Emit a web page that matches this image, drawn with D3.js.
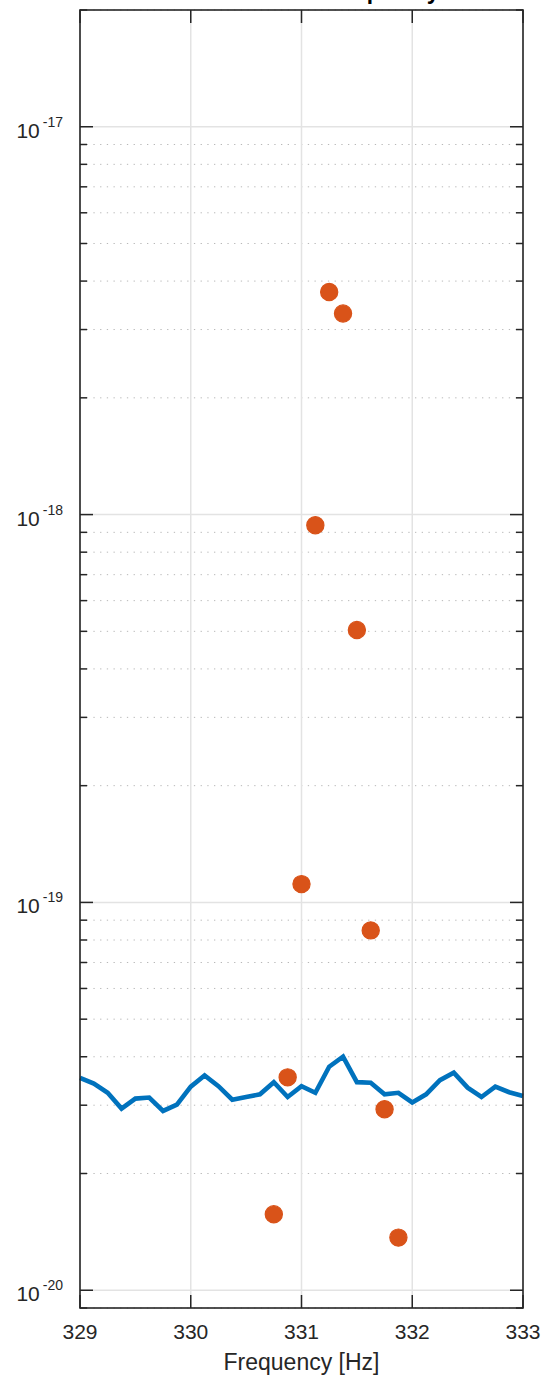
<!DOCTYPE html>
<html><head><meta charset="utf-8">
<script src="https://cdn.jsdelivr.net/npm/d3@7"></script>
<style>
html,body{margin:0;padding:0;background:#fff;}
svg{display:block;font-family:"Liberation Sans",Arial,Helvetica,sans-serif;}
</style></head>
<body>
<svg id="chart" width="544" height="1378"></svg>
<script>
// ---- data ----
const noiseFreq = [329.0,329.125,329.25,329.375,329.5,329.625,329.75,329.875,
  330.0,330.125,330.25,330.375,330.5,330.625,330.75,330.875,
  331.0,331.125,331.25,331.375,331.5,331.625,331.75,331.875,
  332.0,332.125,332.25,332.375,332.5,332.625,332.75,332.875,333.0];
const noiseVal = [3.53e-20,3.41e-20,3.23e-20,2.94e-20,3.12e-20,3.14e-20,2.90e-20,3.01e-20,
  3.35e-20,3.58e-20,3.36e-20,3.10e-20,3.15e-20,3.20e-20,3.44e-20,3.15e-20,
  3.36e-20,3.23e-20,3.77e-20,4.00e-20,3.44e-20,3.43e-20,3.20e-20,3.23e-20,
  3.05e-20,3.20e-20,3.48e-20,3.64e-20,3.33e-20,3.15e-20,3.35e-20,3.24e-20,3.17e-20];
const peakFreq = [330.75,330.875,331.0,331.125,331.25,331.375,331.5,331.625,331.75,331.875];
const peakVal = [1.57e-20,3.54e-20,1.115e-19,9.39e-19,3.75e-18,3.30e-18,5.04e-19,8.47e-20,2.93e-20,1.367e-20];
const xTicks = [329,330,331,332,333];
const yTickExps = [-20,-19,-18,-17];
const xDomain = [329,333];
const yDomain = [9e-21,2e-17];
const titleText = "Noise Floor at Frequency";
const xLabelText = "Frequency [Hz]";

// ---- layout ----
const L=80, R=523, T=10, B=1308;
const svg = d3.select("#chart");
const x = d3.scaleLinear().domain(xDomain).range([L,R]);
const y = d3.scaleLog().domain(yDomain).range([B,T]);
const axisColor = "#262626";

// minor y values
const minorY = [];
for (let e=-21;e<=-17;e++) for (let m=2;m<=9;m++){const v=m*Math.pow(10,e); if(v>=yDomain[0]&&v<=yDomain[1]) minorY.push(v);}
const majorY = yTickExps.map(e=>Math.pow(10,e));

const grid = svg.append("g");
// minor dotted grid
grid.selectAll("line.minor").data(minorY).enter().append("line")
  .attr("x1",L).attr("x2",R).attr("y1",d=>y(d)).attr("y2",d=>y(d))
  .attr("stroke","#b8b8b8").attr("stroke-width",1).attr("stroke-dasharray","1.3,5.4");
// major grid
grid.selectAll("line.majy").data(majorY).enter().append("line")
  .attr("x1",L).attr("x2",R).attr("y1",d=>y(d)).attr("y2",d=>y(d))
  .attr("stroke","#e3e3e3").attr("stroke-width",1.5);
grid.selectAll("line.majx").data(xTicks).enter().append("line")
  .attr("y1",T).attr("y2",B).attr("x1",d=>x(d)).attr("x2",d=>x(d))
  .attr("stroke","#e3e3e3").attr("stroke-width",1.5);

// noise line
const line = d3.line().x((d,i)=>x(noiseFreq[i])).y(d=>y(d));
svg.append("path").datum(noiseVal).attr("d",line)
  .attr("fill","none").attr("stroke","#0072BD").attr("stroke-width",4.6)
  .attr("stroke-linejoin","miter");

// peak markers
svg.append("g").selectAll("circle").data(peakVal).enter().append("circle")
  .attr("cx",(d,i)=>x(peakFreq[i])).attr("cy",d=>y(d)).attr("r",8.6)
  .attr("fill","#D95319").attr("stroke","#D95319").attr("stroke-width",1.2);

// axes ticks (inward)
const ticks = svg.append("g").attr("stroke",axisColor).attr("stroke-width",1.5);
xTicks.forEach(v=>{
  ticks.append("line").attr("x1",x(v)).attr("x2",x(v)).attr("y1",B).attr("y2",B-13);
  ticks.append("line").attr("x1",x(v)).attr("x2",x(v)).attr("y1",T).attr("y2",T+13);
});
majorY.forEach(v=>{
  ticks.append("line").attr("x1",L).attr("x2",L+13).attr("y1",y(v)).attr("y2",y(v));
  ticks.append("line").attr("x1",R).attr("x2",R-13).attr("y1",y(v)).attr("y2",y(v));
});
minorY.forEach(v=>{
  ticks.append("line").attr("x1",L).attr("x2",L+7).attr("y1",y(v)).attr("y2",y(v));
  ticks.append("line").attr("x1",R).attr("x2",R-7).attr("y1",y(v)).attr("y2",y(v));
});
// box
svg.append("rect").attr("x",L).attr("y",T).attr("width",R-L).attr("height",B-T)
  .attr("fill","none").attr("stroke",axisColor).attr("stroke-width",1.6);

// x tick labels
svg.append("g").selectAll("text").data(xTicks).enter().append("text")
  .attr("x",d=>x(d)).attr("y",B+31).attr("text-anchor","middle")
  .attr("font-size",21).attr("fill",axisColor).text(d=>d);
// y tick labels
const yl = svg.append("g").selectAll("text").data(yTickExps).enter().append("text")
  .attr("x",63).attr("y",d=>y(Math.pow(10,d))+11).attr("text-anchor","end")
  .attr("font-size",21).attr("fill",axisColor);
yl.append("tspan").text("10");
yl.append("tspan").attr("dx",3).attr("dy",-11).attr("font-size",14).text(d=>String(d));

// labels
svg.append("text").attr("x",(L+R)/2).attr("y",1370).attr("text-anchor","middle")
  .attr("font-size",23).attr("fill",axisColor).text(xLabelText);
svg.append("text").attr("x",(L+R)/2).attr("y",-1).attr("text-anchor","middle")
  .attr("font-size",23).attr("font-weight","bold").attr("fill","#000").text(titleText);
</script>
</body></html>
